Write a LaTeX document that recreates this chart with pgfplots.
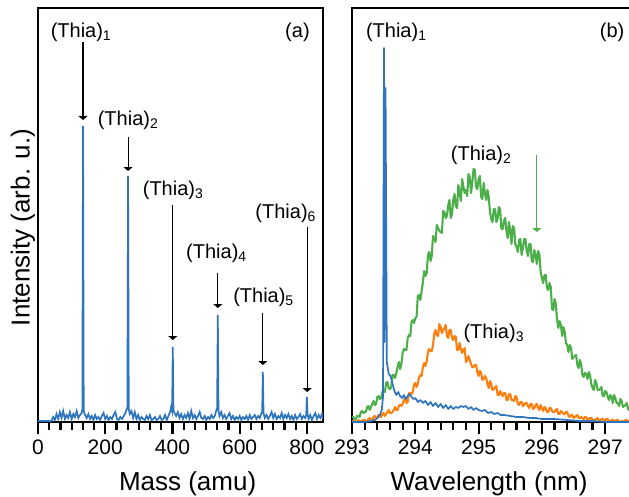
\documentclass[border=0pt]{standalone}
\usepackage{pgfplots}
\pgfplotsset{compat=1.18}
\usepackage{fontspec}
\setmainfont{Liberation Sans}
\usetikzlibrary{arrows.meta}
\definecolor{cblue}{RGB}{46,117,189}
\definecolor{cgreen}{RGB}{77,175,74}
\definecolor{corange}{RGB}{255,127,14}
\pgfplotsset{
  panel/.style={
    scale only axis, height=414pt, ymin=0, ymax=414, ytick=\empty,
    axis line style={line width=2.2pt},
    xtick style={line width=2.2pt, black},
    minor x tick style={line width=2.2pt, black},
    major tick length=12pt, minor tick length=8pt,
    tick align=outside, xtick pos=left,
    /pgf/number format/assume math mode=true,
    /pgf/number format/1000 sep={},
    xticklabel style={font=\fontsize{21}{24}\selectfont, yshift=-2pt},
    label style={font=\fontsize{26}{30}\selectfont},
    clip mode=individual,
  },
}
\tikzset{ann/.style={font=\fontsize{20}{24}\selectfont}}
\begin{document}
\begin{tikzpicture}
\begin{axis}[panel, at={(38pt,74pt)}, anchor=south west, width=285pt,
  xmin=0, xmax=848, xtick={0,200,400,600,800}, minor x tick num=5,
  xlabel={Mass (amu)},
  xlabel style={at={(axis description cs:0.525,0)}, anchor=base, yshift=-68pt},
  ylabel={Intensity (arb. u.)},
  ylabel style={at={(axis description cs:-0.053,0.47)}, anchor=center}]
\addplot[cblue, line width=1.7pt] table {
0 1
40 1
45 5
50 2
55 8
60 3
65 10
70 4
75 11
80 3
85 7
90 4
95 10
100 3
105 8
110 5
115 11
120 4
125 7
130 9
132 13
134 296
136 11
140 7
145 4
150 8
155 3
160 6
165 2
170 7
175 3
180 5
185 2
190 6
195 9
200 3
205 6
210 2
215 5
220 3
225 7
230 10
235 3
240 2
245 5
250 3
255 6
260 9
264 13
266 15
268 246
270 13
273 8
278 11
283 4
288 10
293 3
298 7
303 2
308 5
313 3
318 2
323 6
328 3
333 7
338 2
343 3
348 5
353 2
358 3
363 6
368 2
373 3
378 7
383 2
388 6
393 10
396 15
399 11
401 75
403 12
406 9
411 6
416 10
421 4
426 8
431 3
436 7
441 4
446 9
451 3
456 11
461 4
466 7
471 3
476 6
481 10
486 4
491 3
496 6
501 2
506 5
511 3
516 7
521 4
526 6
530 11
533 14
535 107
537 11
540 6
545 10
550 4
555 7
560 3
565 6
570 9
575 3
580 6
585 2
590 5
595 3
600 6
605 2
610 5
615 3
620 6
625 2
630 7
635 3
640 5
645 7
650 3
655 6
660 4
664 8
667 10
669 50
671 9
675 4
680 7
685 3
690 6
695 10
700 4
705 8
710 3
715 6
720 4
725 9
730 3
735 7
740 4
745 8
750 3
755 6
760 2
765 7
770 3
775 5
780 8
785 3
790 6
795 4
798 7
800 25
802 8
805 3
810 7
815 2
820 6
825 9
830 3
835 7
840 4
845 8
848 3
};
\node[ann] at (axis cs:128,390) {(Thia)\textsubscript{1}};
\node[ann] at (axis cs:268,302) {(Thia)\textsubscript{2}};
\node[ann] at (axis cs:402,232) {(Thia)\textsubscript{3}};
\node[ann] at (axis cs:531,169) {(Thia)\textsubscript{4}};
\node[ann] at (axis cs:671,125) {(Thia)\textsubscript{5}};
\node[ann] at (axis cs:737,209) {(Thia)\textsubscript{6}};
\node[ann] at (axis cs:772,390) {(a)};
\begin{scope}[line width=1.1pt, -{Triangle[length=4pt,width=9pt]}]
\draw (axis cs:134,380) -- (axis cs:134,302);
\draw (axis cs:268,285) -- (axis cs:268,251);
\draw (axis cs:401,217) -- (axis cs:401,82);
\draw (axis cs:535,149) -- (axis cs:535,114);
\draw (axis cs:669,109) -- (axis cs:669,57);
\draw (axis cs:801,195) -- (axis cs:801,30);
\end{scope}
\end{axis}
\begin{axis}[panel, at={(352pt,74pt)}, anchor=south west, width=284.85pt,
  xmin=293, xmax=297.5, xtick={293,294,295,296,297}, minor x tick num=4,
  xlabel={Wavelength (nm)},
  xlabel style={at={(axis description cs:0.481,0)}, anchor=base, yshift=-68pt}]
\addplot[cgreen, line width=2.1pt, line join=round] table {
293.00 5
293.02 5
293.04 3
293.06 3
293.08 6
293.10 6
293.12 5
293.14 10
293.16 11
293.18 9
293.20 10
293.22 10
293.24 15
293.26 16
293.28 12
293.30 15
293.32 18
293.34 21
293.36 17
293.38 18
293.40 25
293.42 26
293.44 23
293.46 24
293.48 30
293.50 31
293.52 30
293.54 39
293.56 40
293.58 34
293.60 33
293.62 35
293.64 47
293.66 47
293.68 44
293.70 49
293.72 55
293.74 60
293.76 53
293.78 58
293.80 69
293.82 73
293.84 72
293.86 72
293.88 84
293.90 87
293.92 86
293.94 100
293.96 102
293.98 99
294.00 104
294.02 105
294.04 126
294.06 127
294.08 122
294.10 131
294.12 140
294.14 151
294.16 146
294.18 149
294.20 167
294.22 170
294.24 161
294.26 166
294.28 186
294.30 183
294.32 180
294.34 197
294.36 194
294.38 191
294.40 190
294.42 189
294.44 211
294.46 210
294.48 204
294.50 206
294.52 217
294.54 222
294.56 204
294.58 208
294.60 222
294.62 228
294.64 216
294.66 214
294.68 237
294.70 230
294.72 221
294.74 243
294.76 235
294.78 229
294.80 232
294.82 226
294.84 248
294.86 245
294.88 229
294.90 239
294.92 253
294.94 252
294.96 235
294.98 233
295.00 243
295.02 246
295.04 225
295.06 223
295.08 239
295.10 229
295.12 222
295.14 232
295.16 225
295.18 210
295.20 203
295.22 200
295.24 213
295.26 213
295.28 200
295.30 203
295.32 215
295.34 213
295.36 193
295.38 193
295.40 201
295.42 204
295.44 191
295.46 184
295.48 200
295.50 191
295.52 178
295.54 196
295.56 194
295.58 178
295.60 175
295.62 170
295.64 182
295.66 183
295.68 167
295.70 174
295.72 183
295.74 183
295.76 171
295.78 166
295.80 178
295.82 178
295.84 161
295.86 160
295.88 172
295.90 167
295.92 158
295.94 171
295.96 168
295.98 150
296.00 144
296.02 139
296.04 147
296.06 147
296.08 134
296.10 132
296.12 139
296.14 135
296.16 113
296.18 112
296.20 123
296.22 118
296.24 102
296.26 94
296.28 101
296.30 97
296.32 86
296.34 95
296.36 90
296.38 79
296.40 77
296.42 70
296.44 77
296.46 74
296.48 63
296.50 65
296.52 66
296.54 67
296.56 57
296.58 54
296.60 62
296.62 58
296.64 47
296.66 45
296.68 49
296.70 48
296.72 43
296.74 50
296.76 47
296.78 38
296.80 34
296.82 32
296.84 42
296.86 39
296.88 32
296.90 32
296.92 33
296.94 35
296.96 26
296.98 26
297.00 31
297.02 30
297.04 25
297.06 22
297.08 27
297.10 25
297.12 19
297.14 27
297.16 24
297.18 19
297.20 19
297.22 16
297.24 23
297.26 21
297.28 15
297.30 16
297.32 17
297.34 19
297.36 13
297.38 12
297.40 18
};
\addplot[corange, line width=2.1pt, line join=round] table {
293.00 0
293.02 1
293.04 1
293.06 0
293.08 0
293.10 2
293.12 1
293.14 1
293.16 1
293.18 2
293.20 2
293.22 1
293.24 1
293.26 3
293.28 4
293.30 2
293.32 2
293.34 5
293.36 6
293.38 4
293.40 4
293.42 7
293.44 6
293.46 5
293.48 8
293.50 9
293.52 6
293.54 8
293.56 10
293.58 12
293.60 9
293.62 9
293.64 10
293.66 12
293.68 15
293.70 12
293.72 12
293.74 16
293.76 17
293.78 16
293.80 18
293.82 22
293.84 24
293.86 19
293.88 20
293.90 29
293.92 29
293.94 28
293.96 30
293.98 37
294.00 39
294.02 35
294.04 38
294.06 45
294.08 47
294.10 46
294.12 55
294.14 59
294.16 56
294.18 61
294.20 70
294.22 73
294.24 71
294.26 71
294.28 77
294.30 88
294.32 92
294.34 87
294.36 86
294.38 98
294.40 95
294.42 89
294.44 92
294.46 94
294.48 97
294.50 86
294.52 84
294.54 92
294.56 92
294.58 84
294.60 82
294.62 86
294.64 85
294.66 72
294.68 72
294.70 79
294.72 73
294.74 69
294.76 72
294.78 74
294.80 60
294.82 62
294.84 66
294.86 62
294.88 58
294.90 55
294.92 55
294.94 57
294.96 57
294.98 50
295.00 46
295.02 51
295.04 49
295.06 42
295.08 43
295.10 46
295.12 44
295.14 38
295.16 34
295.18 41
295.20 38
295.22 32
295.24 33
295.26 34
295.28 36
295.30 27
295.32 27
295.34 31
295.36 28
295.38 26
295.40 29
295.42 29
295.44 22
295.46 22
295.48 28
295.50 28
295.52 22
295.54 22
295.56 21
295.58 26
295.60 25
295.62 18
295.64 17
295.66 20
295.68 20
295.70 16
295.72 17
295.74 19
295.76 19
295.78 16
295.80 14
295.82 18
295.84 18
295.86 13
295.88 14
295.90 17
295.92 18
295.94 14
295.96 12
295.98 17
296.00 14
296.02 11
296.04 15
296.06 14
296.08 10
296.10 10
296.12 14
296.14 14
296.16 11
296.18 10
296.20 10
296.22 12
296.24 13
296.26 8
296.28 8
296.30 11
296.32 10
296.34 8
296.36 8
296.38 10
296.40 10
296.42 6
296.44 5
296.46 7
296.48 7
296.50 4
296.52 5
296.54 6
296.56 7
296.58 4
296.60 4
296.62 5
296.64 4
296.66 3
296.68 5
296.70 5
296.72 2
296.74 3
296.76 4
296.78 4
296.80 2
296.82 2
296.84 2
296.86 3
296.88 4
296.90 1
296.92 1
296.94 3
296.96 3
296.98 1
297.00 2
297.02 3
297.04 3
297.06 0
297.08 0
297.10 2
297.12 2
297.14 1
297.16 1
297.18 2
297.20 2
297.22 0
297.24 0
297.26 1
297.28 1
297.30 0
297.32 2
297.34 2
297.36 0
297.38 1
297.40 2
};
\addplot[cblue, line width=1.7pt, line join=round] table {
293.00 0
293.10 0
293.20 0
293.30 1
293.36 2
293.40 4
293.44 7
293.47 12
293.49 25
293.505 374
293.515 80
293.53 334
293.55 60
293.58 48
293.61 46
293.64 38
293.67 31
293.70 27
293.73 30
293.76 26
293.79 24
293.82 27
293.85 23
293.88 26
293.91 28
293.94 25
293.97 23
294.00 24
294.04 20
294.08 22
294.12 19
294.16 21
294.20 17
294.24 20
294.28 16
294.32 19
294.36 15
294.40 18
294.44 14
294.48 17
294.52 13
294.56 16
294.60 13
294.64 15
294.68 14
294.72 16
294.76 15
294.80 16
294.84 13
294.88 15
294.92 12
294.96 14
295.00 12
295.05 11
295.10 12
295.15 9
295.20 10
295.25 8
295.30 9
295.35 7
295.40 7
295.50 6
295.60 5
295.70 5
295.80 4
295.90 4
296.00 3
296.20 3
296.40 2
296.60 1
296.80 1
297.00 0
297.40 0
};
\node[ann] at (axis cs:293.70,390) {(Thia)\textsubscript{1}};
\node[ann] at (axis cs:295.04,267) {(Thia)\textsubscript{2}};
\node[ann] at (axis cs:295.24,89) {(Thia)\textsubscript{3}};
\node[ann] at (axis cs:297.11,390) {(b)};
\draw[cgreen, line width=1.1pt, -{Triangle[length=4pt,width=9pt]}] (axis cs:295.92,267) -- (axis cs:295.92,190);
\end{axis}
\pgfresetboundingbox
\path[use as bounding box] (0,0) rectangle (629pt,496pt);
\end{tikzpicture}
\end{document}
